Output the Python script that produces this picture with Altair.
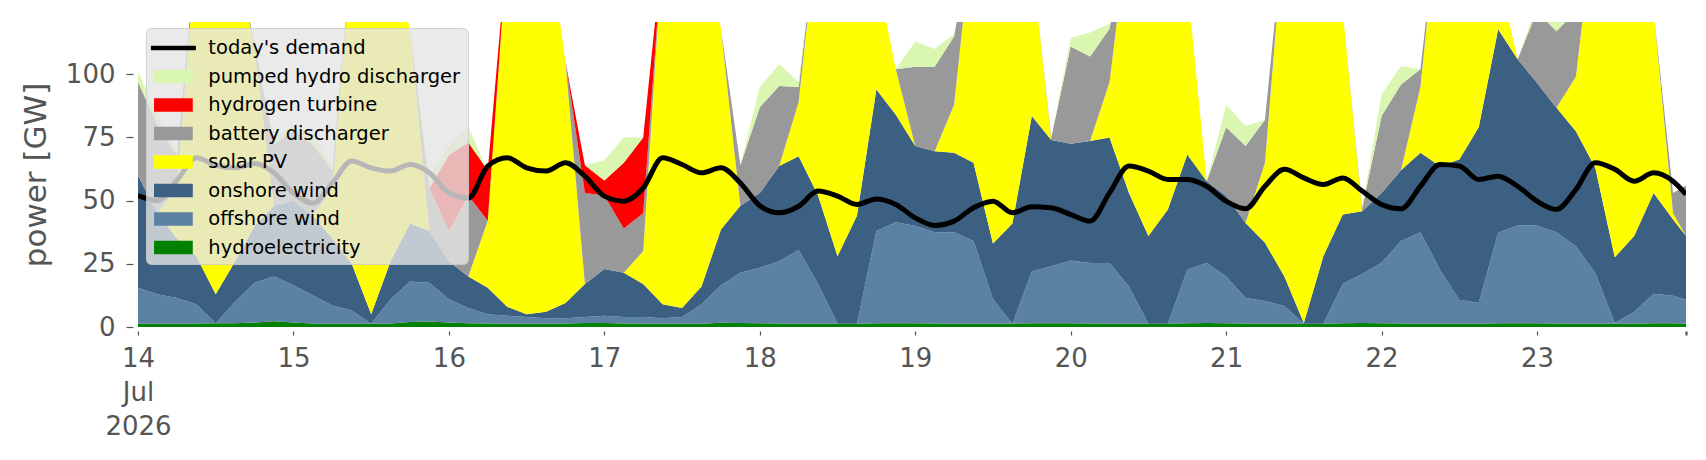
import altair as alt
import pandas as pd

# sample hours from 14 Jul 2026 00:00 (3-hourly readings, last at 23 Jul 23:00)
HOURS = list(range(0, 240, 3)) + [239]

hydro = [1.3, 1.3, 1.3, 1.4, 1.5, 1.5, 1.8, 2.3,
         1.8, 1.4, 1.3, 1.3, 1.3, 1.4, 2.0, 2.2,
         1.8, 1.5, 1.4, 1.3, 1.3, 1.3, 1.4, 1.6,
         1.6, 1.4, 1.3, 1.3, 1.3, 1.3, 1.7, 1.6,
         1.5, 1.4, 1.3, 1.3, 1.3, 1.3, 1.5, 1.5,
         1.5, 1.4, 1.3, 1.3, 1.3, 1.3, 1.5, 1.5,
         1.5, 1.4, 1.3, 1.3, 1.3, 1.3, 1.5, 1.6,
         1.5, 1.4, 1.3, 1.3, 1.3, 1.3, 1.5, 1.6,
         1.5, 1.4, 1.3, 1.3, 1.3, 1.3, 1.5, 1.5,
         1.5, 1.4, 1.3, 1.3, 1.3, 1.3, 1.5, 1.5,
         1.4]

offshore = [14.2, 11.7, 10.2, 7.6, 0, 8.5, 15.7, 17.7,
            14.7, 11.1, 7.2, 5.2, 0, 9.6, 16, 15.3,
            9.2, 6, 3.6, 3.2, 2.7, 2.2, 2.1, 2.4,
            2.9, 2.6, 2.7, 2.2, 2.7, 7.7, 14.8, 19.9,
            21.9, 24.6, 29.2, 15.7, 0, 0, 36.5, 40,
            38.5, 36.1, 36.2, 32.7, 9.7, 0, 20.5, 22.5,
            24.8, 23.9, 24, 14.7, 0, 0, 21.2, 23.7,
            18.5, 10.1, 9, 7, 0, 0, 15.5, 19.4,
            23.9, 32.6, 36.2, 21.4, 9.5, 8.2, 35.8, 38.7,
            38.7, 36.1, 30.7, 20.1, 0.3, 4.7, 11.7, 10.9,
            9.4]

onshore = [44.5, 32, 23.5, 19, 11.5, 16, 22.5, 28,
           33.5, 31.5, 26.5, 18.5, 3.7, 15, 23, 20.5,
           15, 12.5, 10.5, 3.5, 1, 2.5, 6, 13,
           18.5, 17.5, 13, 5.5, 3.5, 7, 22.1, 26.5,
           29.6, 37.7, 37.1, 35, 26.7, 42.7, 56, 42.5,
           31.6, 32.1, 31.5, 31, 22, 39.7, 61.5, 50,
           46.2, 48.3, 49.7, 37, 34.7, 45.2, 45.6, 32.4,
           31.8, 29.7, 23, 11.7, 0.3, 26.7, 27.5, 24.8,
           27.6, 28, 31.5, 41, 55.5, 69.5, 80.5, 65.8,
           56.5, 49.3, 45.5, 41.6, 26, 30, 39.8, 30.1,
           25.2]

solar = [0, 0, 20, 122, 152, 124, 70, 0,
         0, 0, 20, 125, 155, 119, 77, 0,
         0, 0, 26.5, 142, 160, 154, 95.5, 0,
         0, 0, 13, 141, 162.5, 139, 79.4, 0,
         0, 0, 21.4, 108, 142, 121, 46, 18,
         0, 0, 19, 95, 137, 124, 61.5, 0,
         0, 0, 22, 107, 134, 113.5, 67.7, 0,
         0, 0, 31.7, 140, 163.4, 132, 80.5, 0,
         0, 0, 26, 106.3, 108.7, 86, 22.2, 0,
         0, 0, 21.5, 102, 137.4, 119, 72, 2.5,
         0]

battery = [37, 35, 13, 0, 0, 0, 2, 24,
           28, 28, 7, 0, 0, 0, 0, 17,
           12, 32, 0, 0, 0, 0, 0, 36,
           29, 17.5, 15, 0, 0, 0, 0, 16,
           34, 31.7, 6, 0, 0, 0, 0, 0,
           31.4, 33.4, 27, 0, 0, 0, 0, 1,
           38.5, 33.4, 21, 0, 0, 0, 0, 0,
           27.2, 30.4, 17, 0, 0, 0, 0, 1.2,
           30.5, 34, 7, 0, 0, 0, 0, 0,
           28.3, 30.2, 26, 0, 0, 0, 0, 8,
           20]

hydrogen = [0, 0, 0, 0, 0, 0, 0, 0,
            0, 0, 0, 0, 0, 0, 0, 0,
            30, 21, 20, 0, 0, 0, 0, 11,
            6, 26, 30, 0, 0, 0, 0, 0,
            0, 0, 0, 0, 0, 0, 0, 0,
            0, 0, 0, 0, 0, 0, 0, 0,
            0, 0, 0, 0, 0, 0, 0, 0,
            0, 0, 0, 0, 0, 0, 0, 0,
            0, 0, 0, 0, 0, 0, 0, 0,
            0, 0, 0, 0, 0, 0, 0, 0,
            0]

pumped = [4, 4, 2, 0, 0, 0, 0, 3,
          2, 4, 2, 0, 0, 0, 0, 5,
          4, 6, 0, 0, 0, 0, 0, 0,
          8, 10, 0, 0, 0, 0, 0, 0,
          8, 8.6, 2, 0, 0, 0, 0, 0,
          10, 7, 1, 0, 0, 0, 0, 0,
          3.5, 9.5, 2, 0, 0, 0, 0, 0,
          9, 7.9, 0, 0, 0, 0, 0, 0,
          8.5, 7.3, 0, 0, 0, 0, 0, 0,
          3, 5, 0, 0, 0, 0, 0, 0,
          0]

demand = [52, 50, 58, 67, 64, 63, 64.7, 61,
          53, 49, 57, 65.7, 63, 61.7, 64.3, 61,
          53, 51, 63.7, 67, 63, 61.7, 65, 59.7,
          51.8, 49.8, 55, 67, 64.3, 61, 63, 57,
          48, 45.2, 47.8, 53.8, 51.8, 48.5, 50.7, 48.5,
          43.2, 40.2, 41.9, 47.2, 49.8, 45.2, 47.6, 47.2,
          44.5, 41.9, 53.1, 63.7, 61.7, 58.4, 58.4, 55.7,
          49.8, 46.8, 55.7, 62.4, 59, 56.4, 59, 53.8,
          48.5, 46.8, 55.7, 64.3, 63.7, 58.4, 59.7, 55.7,
          49.8, 46.5, 54.4, 65, 62.4, 57.7, 61, 57.7,
          52.5]

STACK = ["hydroelectricity", "offshore wind", "onshore wind", "solar PV",
         "battery discharger", "hydrogen turbine", "pumped hydro discharger"]
STACK_VALUES = [hydro, offshore, onshore, solar, battery, hydrogen, pumped]

LEGEND_ORDER = ["today's demand", "pumped hydro discharger", "hydrogen turbine",
                "battery discharger", "solar PV", "onshore wind", "offshore wind",
                "hydroelectricity"]
COLORS = ["#000000", "#d9f7b0", "#ff0000", "#999999", "#ffff00", "#3b6082",
          "#5c82a3", "#008000"]
LINE_SYMBOL = "M-1.73,-0.18H1.73V0.18H-1.73Z"
PATCH_SYMBOL = "M-1.49,-0.51H1.49V0.51H-1.49Z"
SHAPES = [LINE_SYMBOL] + [PATCH_SYMBOL] * 7

times = [(pd.Timestamp("2026-07-14") + pd.Timedelta(hours=h)).strftime("%Y-%m-%dT%H:%M:%S")
         for h in HOURS]

rows = []
for k, (name, vals) in enumerate(zip(STACK, STACK_VALUES)):
    for t, v in zip(times, vals):
        rows.append({"time": t, "series": name, "value": v, "order": k})
df = pd.DataFrame(rows)
ddf = pd.DataFrame({"time": times, "demand": demand})
# legend-key rows (placed below the visible range, clipped away)
kdf = pd.DataFrame({"time": [times[0]] * len(LEGEND_ORDER), "series": LEGEND_ORDER,
                    "value": [-50] * len(LEGEND_ORDER)})

GREY = "#555555"
FONT = "DejaVu Sans"

legend = alt.Legend(
    title=None, orient="none", legendX=8, legendY=6,
    fillColor="rgba(229,229,229,0.8)", strokeColor="rgba(204,204,204,0.8)",
    cornerRadius=5, padding=7,
    symbolSize=676, symbolStrokeWidth=0, symbolOffset=7.4, symbolOpacity=1,
    labelOffset=21.9, labelFontSize=19.5, labelFont=FONT, labelColor="#000000",
    labelLimit=400, rowPadding=5.5,
)

color_scale = alt.Scale(domain=LEGEND_ORDER, range=COLORS)

tick_days = [alt.DateTime(year=2026, month=7, date=d, hours=0) for d in range(14, 24)]
tick_end = alt.DateTime(year=2026, month=7, date=23, hours=23)

x_enc = alt.X(
    "time:T",
    scale=alt.Scale(domain=[alt.DateTime(year=2026, month=7, date=14, hours=0), tick_end],
                    nice=False),
    axis=alt.Axis(
        values=tick_days + [tick_end],
        labelExpr=("hours(datum.value) == 23 ? '' : (date(datum.value) == 14 ? "
                   "['14', 'Jul', '2026'] : timeFormat(datum.value, '%-d'))"),
        title=None, offset=4, tickSize=4, tickColor=GREY,
        tickWidth={"condition": {"test": "hours(datum.value) == 23", "value": 2.2},
                   "value": 1.2},
        labelFontSize=26, labelColor=GREY, labelFont=FONT, labelPadding=10,
        labelLineHeight=34, labelFlush=False, labelOverlap=False, labelBound=False,
    ),
)

y_enc = alt.Y(
    "value:Q", stack="zero",
    scale=alt.Scale(domain=[0, 120.7], nice=False, zero=True),
    axis=alt.Axis(
        values=[0, 25, 50, 75, 100], title="power [GW]", offset=5, tickSize=7,
        tickColor=GREY, tickWidth=1.2, labelFontSize=26, labelColor=GREY,
        labelFont=FONT, labelPadding=11, titleFontSize=31, titleFont=FONT,
        titleFontWeight="normal", titleColor=GREY, titlePadding=13,
    ),
)

areas = alt.Chart(df).mark_area(opacity=1, clip=True, interpolate="linear").encode(
    x=x_enc,
    y=y_enc,
    color=alt.Color("series:N", scale=color_scale, legend=legend),
    order=alt.Order("order:Q", sort="ascending"),
)

line = alt.Chart(ddf).mark_line(color="black", strokeWidth=5, clip=True,
                                interpolate="monotone").encode(
    x=alt.X("time:T"),
    y=alt.Y("demand:Q"),
)

keys = alt.Chart(kdf).mark_point(filled=True, opacity=0, clip=True).encode(
    x=alt.X("time:T"),
    y=alt.Y("value:Q"),
    color=alt.Color("series:N", scale=color_scale, legend=legend),
    shape=alt.Shape("series:N", scale=alt.Scale(domain=LEGEND_ORDER, range=SHAPES),
                    legend=legend),
)

chart = alt.layer(areas, line, keys).properties(
    width=1548, height=305,
    autosize=alt.AutoSizeParams(type="none"),
    padding={"left": 130, "top": 14, "right": 10, "bottom": 122},
).configure_view(stroke=None).configure_axis(grid=False, domain=False)

chart.save("out.html", embed_options={"renderer": "svg", "actions": False})
